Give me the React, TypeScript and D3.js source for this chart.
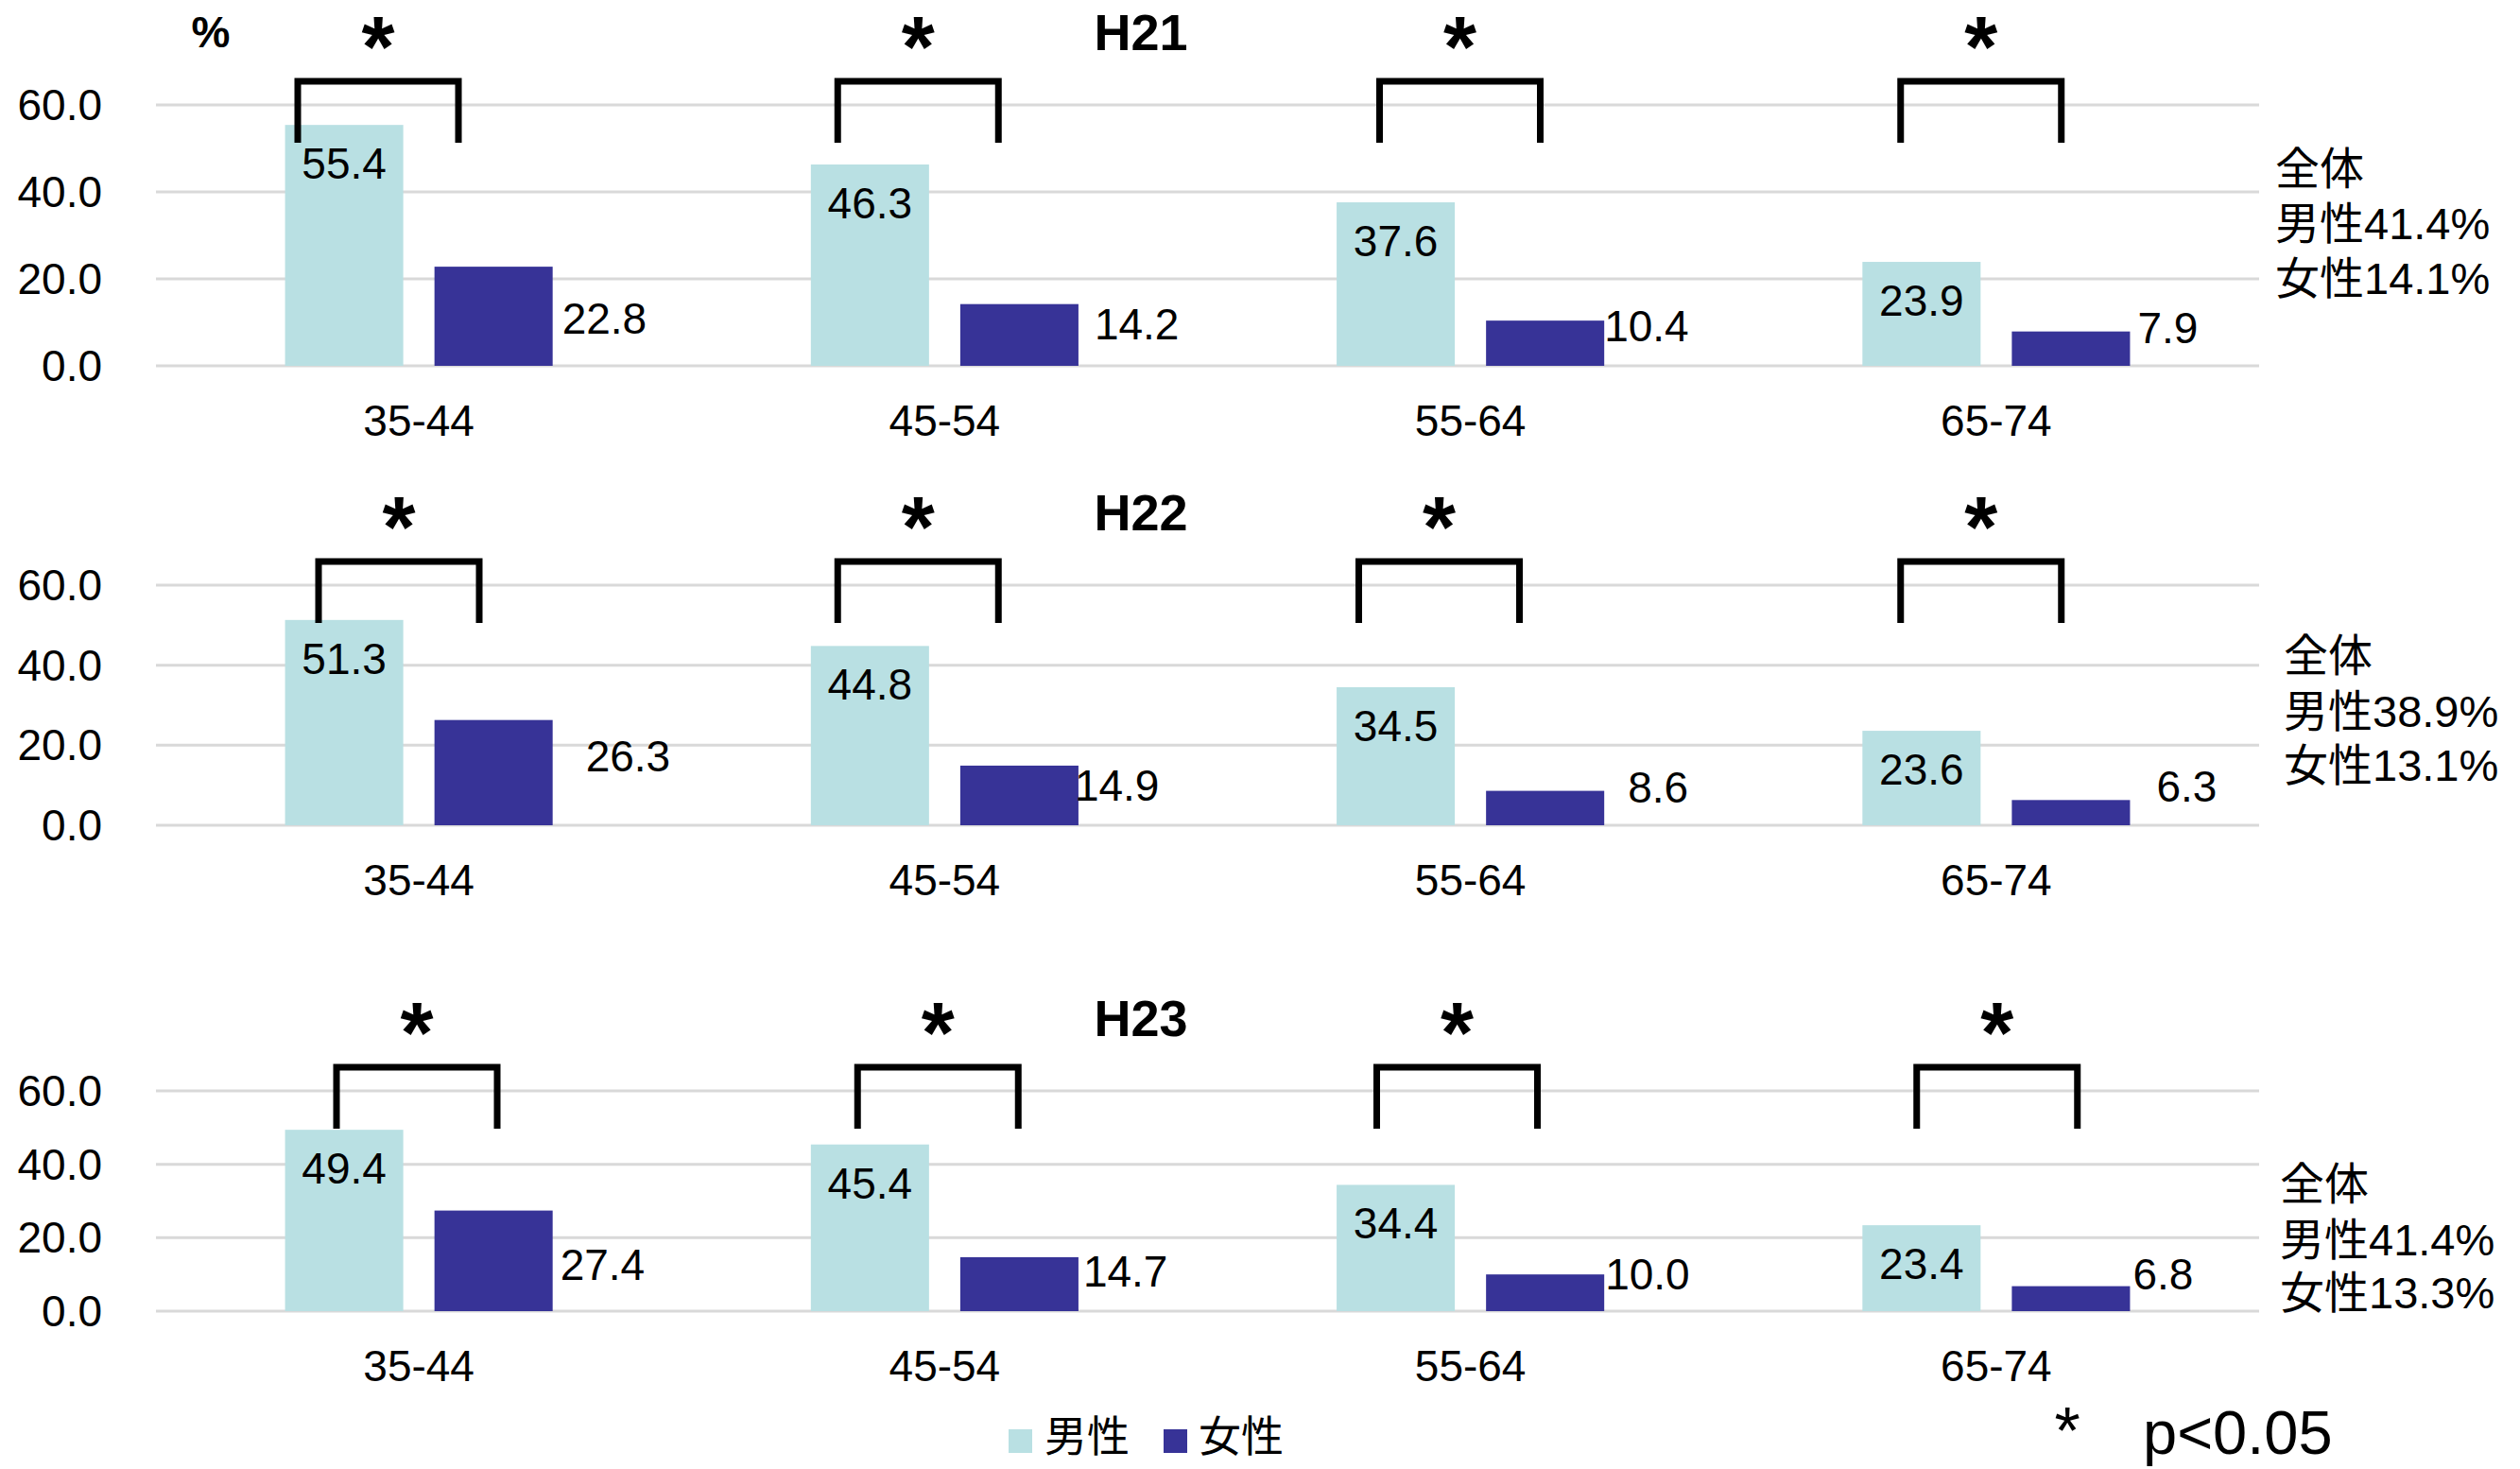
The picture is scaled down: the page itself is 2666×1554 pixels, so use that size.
import React from "react";
import * as d3 from "d3";

// ---------- data ----------
const categories = ["35-44", "45-54", "55-64", "65-74"];
const panelTitles = ["H21", "H22", "H23"];
const maleValues = [
  [55.4, 46.3, 37.6, 23.9],
  [51.3, 44.8, 34.5, 23.6],
  [49.4, 45.4, 34.4, 23.4],
];
const femaleValues = [
  [22.8, 14.2, 10.4, 7.9],
  [26.3, 14.9, 8.6, 6.3],
  [27.4, 14.7, 10.0, 6.8],
];
const overallMale = ["41.4", "38.9", "41.4"];
const overallFemale = ["14.1", "13.1", "13.3"];
const yTicks = [0, 20, 40, 60];
const seriesNames = ["男性", "女性"];
const significance = "p<0.05";

// ---------- layout ----------
const W = 2666;
const H = 1554;
const FONT = "'Liberation Sans', Arial, 'Noto Sans CJK JP', sans-serif";
const MALE_COLOR = "#B9E0E3";
const FEMALE_COLOR = "#373397";
const GRID_COLOR = "#D9D9D9";
const plotLeft = 165;
const plotRight = 2390;
const panelZero = [387, 873, 1387];
const panelTop = [111, 619, 1154];
// bracket left offset (px from band start) per panel/category
const bracketLeft = [
  [150, 165, 182, 177],
  [172, 165, 160, 177],
  [191, 186, 179, 194],
];
const bracketWidth = 170;
// female value label nudges: [dx from bar end, dy (center) from zero line]
const femaleLabelNudge = [
  [[10, -50], [17, -44], [0, -42], [8, -40]],
  [[35, -73], [-4, -42], [25, -40], [28, -41]],
  [[8, -49], [5, -42], [1, -39], [3, -39]],
];
const summaryX = [2407, 2416, 2412];
const summaryY = [
  [178, 236, 294],
  [693, 752, 809],
  [1252, 1311, 1367],
];

const xBand = d3.scaleBand<string>().domain(categories).range([plotLeft, plotRight]).padding(0);
const xInner = d3
  .scaleBand<string>()
  .domain(["male", "female"])
  .range([0, xBand.bandwidth()])
  .paddingInner(0.209)
  .paddingOuter(0.864);

function Panel({ p }: { p: number }) {
  const y = d3.scaleLinear().domain([0, 60]).range([panelZero[p], panelTop[p]]);
  const bw = xInner.bandwidth();
  const bracketTop = y(60) - 25;
  const bracketBottom = y(60) + 40;
  const starY = y(60) - 71;
  return (
    <g>
      {yTicks.map((t) => (
        <g key={t}>
          <line x1={plotLeft} x2={plotRight} y1={y(t)} y2={y(t)} stroke={GRID_COLOR} strokeWidth={3} />
          <text
            x={108}
            y={y(t)}
            textAnchor="end"
            dominantBaseline="central"
            fontSize={46}
            fontFamily={FONT}
            fill="#000"
          >
            {t.toFixed(1)}
          </text>
        </g>
      ))}
      {categories.map((c, i) => {
        const x0 = xBand(c)!;
        const mx = x0 + xInner("male")!;
        const fx = x0 + xInner("female")!;
        const mv = maleValues[p][i];
        const fv = femaleValues[p][i];
        const bl = x0 + bracketLeft[p][i];
        const br = bl + bracketWidth;
        const [ndx, ndy] = femaleLabelNudge[p][i];
        return (
          <g key={c}>
            <rect x={mx} y={y(mv)} width={bw} height={y(0) - y(mv)} fill={MALE_COLOR} />
            <rect x={fx} y={y(fv)} width={bw} height={y(0) - y(fv)} fill={FEMALE_COLOR} />
            <text
              x={mx + bw / 2}
              y={y(mv) + 41}
              textAnchor="middle"
              dominantBaseline="central"
              fontSize={46}
              fontFamily={FONT}
            >
              {mv.toFixed(1)}
            </text>
            <text
              x={fx + bw + ndx}
              y={y(0) + ndy}
              textAnchor="start"
              dominantBaseline="central"
              fontSize={46}
              fontFamily={FONT}
            >
              {fv.toFixed(1)}
            </text>
            <text
              x={x0 + xBand.bandwidth() / 2}
              y={y(0) + 58}
              textAnchor="middle"
              dominantBaseline="central"
              fontSize={46}
              fontFamily={FONT}
            >
              {c}
            </text>
            <path
              d={`M${bl},${bracketBottom}V${bracketTop}H${br}V${bracketBottom}`}
              fill="none"
              stroke="#000"
              strokeWidth={7}
              strokeLinejoin="miter"
            />
            <text
              x={(bl + br) / 2}
              y={starY + 41}
              textAnchor="middle"
              fontSize={90}
              fontWeight="bold"
              fontFamily={FONT}
            >
              *
            </text>
          </g>
        );
      })}
      <text
        x={1207}
        y={y(60) - 77}
        textAnchor="middle"
        dominantBaseline="central"
        fontSize={54}
        fontWeight="bold"
        fontFamily={FONT}
      >
        {panelTitles[p]}
      </text>
      {["全体", `男性${overallMale[p]}%`, `女性${overallFemale[p]}%`].map((s, k) => (
        <text
          key={k}
          x={summaryX[p]}
          y={summaryY[p][k]}
          dominantBaseline="central"
          fontSize={47}
          fontFamily={FONT}
        >
          {s}
        </text>
      ))}
    </g>
  );
}

export default function App() {
  return (
    <svg
      width={W}
      height={H}
      viewBox={`0 0 ${W} ${H}`}
      style={{ position: "absolute", left: 0, top: 0, background: "#fff" }}
    >
      <rect x={0} y={0} width={W} height={H} fill="#fff" />
      <text x={223} y={34} textAnchor="middle" dominantBaseline="central" fontSize={46} fontWeight="bold" fontFamily={FONT}>
        %
      </text>
      {panelTitles.map((_, p) => (
        <Panel key={p} p={p} />
      ))}
      {/* legend */}
      <rect x={1067} y={1512} width={25} height={25} fill={MALE_COLOR} />
      <text x={1105} y={1520} dominantBaseline="central" fontSize={45} fontFamily={FONT}>
        {seriesNames[0]}
      </text>
      <rect x={1231} y={1512} width={25} height={25} fill={FEMALE_COLOR} />
      <text x={1268} y={1520} dominantBaseline="central" fontSize={45} fontFamily={FONT}>
        {seriesNames[1]}
      </text>
      <text x={2187} y={1538} textAnchor="middle" fontSize={70} fontFamily={FONT}>
        *
      </text>
      <text x={2267} y={1538} fontSize={65} fontFamily={FONT}>
        {significance}
      </text>
    </svg>
  );
}
